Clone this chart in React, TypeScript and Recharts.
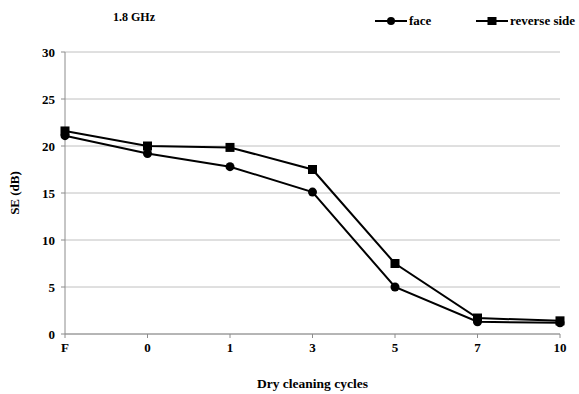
import { LineChart, Line, XAxis, YAxis, CartesianGrid } from 'recharts';

const cycles = ['F', '0', '1', '3', '5', '7', '10'];
const faceSE = [21.1, 19.2, 17.8, 15.1, 5.0, 1.3, 1.2];
const reverseSE = [21.6, 20.0, 19.85, 17.5, 7.5, 1.7, 1.4];
const yTicks = [0, 5, 10, 15, 20, 25, 30];

const data = cycles.map((c, i) => ({ cycle: c, face: faceSE[i], reverse: reverseSE[i] }));

const font = '"Liberation Serif", "Times New Roman", serif';
const tickStyle = { fontSize: 13, fontWeight: 700, fill: '#000', fontFamily: font };

const SquareDot = (props: any) => {
  const { cx, cy } = props;
  if (cx == null || cy == null) return null;
  return <rect x={cx - 4.5} y={cy - 4.5} width={9} height={9} fill="#000" />;
};

const LegendItem = ({ square, label }: { square?: boolean; label: string }) => (
  <span style={{ display: 'inline-flex', alignItems: 'center' }}>
    <svg width={32} height={10} style={{ marginRight: 2 }}>
      <line x1={0} y1={5} x2={32} y2={5} stroke="#000" strokeWidth={2} />
      {square ? <rect x={11.5} y={1} width={9} height={8} fill="#000" /> : <circle cx={16} cy={5} r={4} fill="#000" />}
    </svg>
    {label}
  </span>
);

export default function App() {
  return (
    <div style={{ position: 'absolute', left: 0, top: 0, width: 579, height: 394, background: '#fff', fontFamily: font }}>
      <div style={{ position: 'absolute', left: 113, top: 10, fontSize: 12, fontWeight: 700 }}>1.8 GHz</div>
      <div style={{ position: 'absolute', left: 375, top: 13, fontSize: 13, fontWeight: 700 }}>
        <LegendItem label="face" />
      </div>
      <div style={{ position: 'absolute', left: 476, top: 13, fontSize: 13, fontWeight: 700 }}>
        <LegendItem square label="reverse side" />
      </div>
      <LineChart width={579} height={394} data={data} margin={{ top: 52, right: 19, bottom: 0, left: 0 }}>
        <CartesianGrid vertical={false} stroke="#c0c0c0" strokeWidth={1} />
        <XAxis
          dataKey="cycle"
          height={60}
          padding={{ left: 0, right: 0 }}
          stroke="#8c8c8c"
          tickSize={4}
          tickMargin={5}
          tick={tickStyle}
          label={{ value: 'Dry cleaning cycles', position: 'insideBottom', offset: 6, style: { ...tickStyle, fontSize: 13.5 } }}
        />
        <YAxis
          width={65}
          domain={[0, 30]}
          ticks={yTicks}
          stroke="#8c8c8c"
          tickSize={4}
          tickMargin={6}
          tick={tickStyle}
          label={{ value: 'SE (dB)', angle: -90, position: 'insideLeft', offset: 14, style: { ...tickStyle, textAnchor: 'middle' } }}
        />
        <Line type="linear" dataKey="face" stroke="#000" strokeWidth={2} dot={{ r: 4.5, fill: '#000', stroke: '#000', strokeWidth: 0 }} isAnimationActive={false} />
        <Line type="linear" dataKey="reverse" stroke="#000" strokeWidth={2} dot={<SquareDot />} isAnimationActive={false} />
      </LineChart>
    </div>
  );
}
